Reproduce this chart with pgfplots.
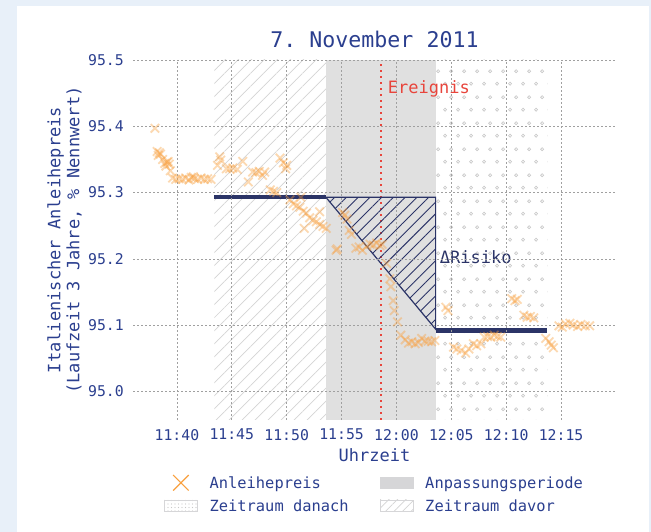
\documentclass[border=0pt]{standalone}
\usepackage{fontspec}
\setmainfont{DejaVu Sans Mono}
\frenchspacing
\usepackage{pgfplots}
\pgfplotsset{compat=1.18}
\usetikzlibrary{patterns,patterns.meta}
\definecolor{bgblue}{RGB}{232,240,249}
\definecolor{txtblue}{RGB}{43,63,143}
\definecolor{navy}{RGB}{43,52,103}
\definecolor{regiongray}{RGB}{224,224,224}
\definecolor{legendgray}{RGB}{214,214,216}
\definecolor{hatchgray}{RGB}{212,212,212}
\definecolor{dotgray}{RGB}{200,200,200}
\definecolor{gridgray}{RGB}{160,160,160}
\definecolor{eventred}{RGB}{232,69,60}
\definecolor{bondorange}{RGB}{249,160,63}
\pgfdeclarepattern{
  name=staggereddots,
  type=uncolored,
  bottom left={\pgfpoint{0pt}{0pt}},
  top right={\pgfpoint{13pt}{26pt}},
  tile size={\pgfpoint{13pt}{26pt}},
  code={
    \pgfsetlinewidth{0.7pt}
    \pgfpathcircle{\pgfpoint{3.25pt}{6.5pt}}{1.6pt}
    \pgfpathcircle{\pgfpoint{9.75pt}{19.5pt}}{1.6pt}
    \pgfusepath{stroke}
  }
}
\begin{document}
\begin{tikzpicture}[x=1pt,y=1pt]
\fill[bgblue] (0,0) rectangle (651,532);
\fill[white] (17,0) rectangle (649,526);
\begin{axis}[
  at={(133pt,112pt)}, anchor=south west,
  width=483pt, height=360pt, scale only axis,
  xmin=36, xmax=80, ymin=94.957, ymax=95.5,
  axis line style={draw=none},
  major tick length=0pt,
  xtick={40,45,50,55,60,65,70,75},
  xticklabels={11:40,11:45,11:50,11:55,12:00,12:05,12:10,12:15},
  ytick={95.0,95.1,95.2,95.3,95.4,95.5},
  yticklabels={95.0,95.1,95.2,95.3,95.4,95.5},
  grid=major,
  major grid style={gridgray, dash pattern=on 2pt off 2pt, line width=0.7pt},
  axis on top,
  tick label style={text=txtblue, font=\fontsize{14.8}{17}\selectfont},
  xticklabel style={anchor=north, inner sep=0pt, yshift=-9pt},
  yticklabel style={anchor=east, inner sep=0pt, xshift=-9pt},
  title={7. November 2011},
  title style={at={(axis description cs:0.5,1)}, anchor=base, yshift=6pt, inner sep=0pt, font=\fontsize{21.6}{24}\selectfont, text=txtblue},
  xlabel={Uhrzeit},
  xlabel style={at={(axis description cs:0.5,0)}, anchor=north, yshift=-28pt, inner sep=0pt, font=\fontsize{17}{19}\selectfont, text=txtblue},
  ylabel={Italienischer Anleihepreis\\(Laufzeit 3 Jahre, \% Nennwert)},
  ylabel style={at={(axis description cs:-0.1056,0.5)}, anchor=south, inner sep=0pt, align=center, font=\fontsize{17}{19}\selectfont, text=txtblue},
  legend columns=2,
  legend cell align=left,
  legend style={
    at={(axis description cs:0.0642,-0.1528)}, anchor=north west,
    draw=none, fill=none, inner sep=0pt, outer sep=0pt,
    font=\fontsize{15.4}{18}\selectfont, text=txtblue,
    row sep=9pt,
    nodes={inner sep=0pt, text height=11.3pt, text depth=0pt},
    /tikz/every even column/.append style={column sep=31pt},
  },
]
% legend entries
\addlegendimage{legend image code/.code={\draw[bondorange, line width=1.2pt] plot[mark=x, mark size=11pt] coordinates {(16.5pt,0pt)}; \path (45pt,0pt);}}
\addlegendentry{Anleihepreis}
\addlegendimage{legend image code/.code={\fill[legendgray] (0pt,-5.5pt) rectangle (33pt,5.5pt); \path (45pt,0pt);}}
\addlegendentry{Anpassungsperiode}
\addlegendimage{legend image code/.code={\draw[legendgray, line width=0.8pt, pattern={Dots[distance=3.5pt, radius=0.7pt]}, pattern color=dotgray] (0pt,-5.5pt) rectangle (33pt,5.5pt); \path (45pt,0pt);}}
\addlegendentry{Zeitraum danach}
\addlegendimage{legend image code/.code={\draw[legendgray, line width=0.8pt, pattern={Lines[angle=45,distance=6pt,line width=0.7pt]}, pattern color=hatchgray] (0pt,-5.5pt) rectangle (33pt,5.5pt); \path (45pt,0pt);}}
\addlegendentry{Zeitraum davor}

% regions
\addplot[forget plot, draw=none, fill=regiongray] coordinates {(53.57,94.957) (63.57,94.957) (63.57,95.5) (53.57,95.5)};
\addplot[forget plot, draw=none, pattern={Lines[angle=45,distance=9.2pt,line width=0.7pt]}, pattern color=hatchgray] coordinates {(43.42,94.957) (53.57,94.957) (53.57,95.5) (43.42,95.5)};
\addplot[forget plot, draw=none, pattern=staggereddots, pattern color=dotgray] coordinates {(63.57,94.957) (73.75,94.957) (73.75,95.5) (63.57,95.5)};

% bond prices
\addplot[forget plot, only marks, mark=x, mark size=6pt, color=bondorange, line width=1.8pt, opacity=0.4] coordinates {
(38.0,95.397)
(38.2,95.362) (38.3,95.356) (38.4,95.360) (38.5,95.358) (38.7,95.350) (38.9,95.344) (39.1,95.346) (39.3,95.343) (39.0,95.340) (39.2,95.347) (39.4,95.333)
(39.6,95.322) (39.9,95.320) (40.2,95.321) (40.5,95.320) (40.8,95.322) (41.1,95.319) (41.3,95.323) (41.5,95.324) (41.6,95.321) (41.9,95.320) (42.2,95.322) (42.5,95.320) (42.8,95.321) (43.1,95.320)
(43.9,95.354) (44.0,95.349) (43.7,95.341)
(44.5,95.336) (44.8,95.336) (45.1,95.337) (45.5,95.335)
(46.0,95.347) (46.5,95.316)
(46.9,95.331) (47.2,95.330) (47.5,95.332) (47.8,95.326) (48.0,95.331)
(48.5,95.304) (48.8,95.302) (49.1,95.300)
(49.4,95.352) (49.7,95.345) (50.0,95.341) (49.9,95.336)
(50.3,95.289) (50.6,95.283) (50.9,95.280) (51.2,95.278) (51.3,95.293) (51.5,95.272) (51.6,95.246)
(51.8,95.269) (52.1,95.262) (52.4,95.258) (52.7,95.256) (53.0,95.252) (53.3,95.249) (53.6,95.246) (53.0,95.271)
(54.5,95.213) (54.6,95.215)
(55.1,95.270) (55.3,95.266) (55.5,95.260) (55.7,95.243) (55.9,95.237)
(56.3,95.216) (56.6,95.218) (56.9,95.213) (57.3,95.219) (57.6,95.222) (57.9,95.221) (58.2,95.224) (58.5,95.220) (58.7,95.222)
(59.1,95.193) (59.4,95.170) (59.5,95.158) (59.7,95.137) (59.8,95.122) (60.1,95.105) (60.4,95.085)
(60.8,95.078) (61.1,95.073) (61.4,95.075) (61.7,95.072) (62.0,95.074) (62.3,95.080) (62.6,95.076) (62.9,95.076) (63.2,95.075) (63.5,95.077)
(64.5,95.127) (64.7,95.122)
(65.2,95.067) (65.5,95.064) (65.9,95.062) (66.3,95.058) (66.6,95.064) (67.0,95.072) (67.3,95.069) (67.7,95.072)
(68.0,95.082) (68.3,95.083) (68.6,95.082) (68.9,95.085) (69.2,95.083) (69.5,95.082)
(70.5,95.140) (70.8,95.137) (71.0,95.139)
(71.6,95.115) (71.9,95.112) (72.2,95.113) (72.5,95.111)
(73.6,95.080) (73.9,95.075) (74.1,95.070) (74.3,95.066)
(74.8,95.099) (75.1,95.097) (75.4,95.102) (75.8,95.103) (76.1,95.100) (76.5,95.098) (76.8,95.101) (77.2,95.099) (77.6,95.099)
};

% event line
\addplot[forget plot, eventred, line width=2pt, dash pattern=on 2pt off 4pt] coordinates {(58.57,94.957) (58.57,95.5)};

% risk triangle
\addplot[forget plot, navy, line width=1.2pt, pattern={Lines[angle=45,distance=8.3pt,line width=0.9pt]}, pattern color=navy] coordinates {(53.57,95.293) (63.57,95.293) (63.57,95.094)} -- cycle;

% average levels
\addplot[forget plot, navy, line width=4.3pt] coordinates {(43.42,95.293) (53.57,95.293)};
\addplot[forget plot, navy, line width=4.3pt] coordinates {(63.57,95.092) (73.75,95.092)};

\node[anchor=base west, inner sep=0pt, text=eventred, font=\fontsize{17}{19}\selectfont] at (axis cs:59.2,95.450) {Ereignis};
\node[anchor=base west, inner sep=0pt, text=navy, font=\fontsize{17}{19}\selectfont] at (axis cs:63.94,95.193) {ΔRisiko};
\end{axis}
\pgfresetboundingbox
\path[use as bounding box] (0,0) rectangle (651,532);
\end{tikzpicture}
\end{document}
